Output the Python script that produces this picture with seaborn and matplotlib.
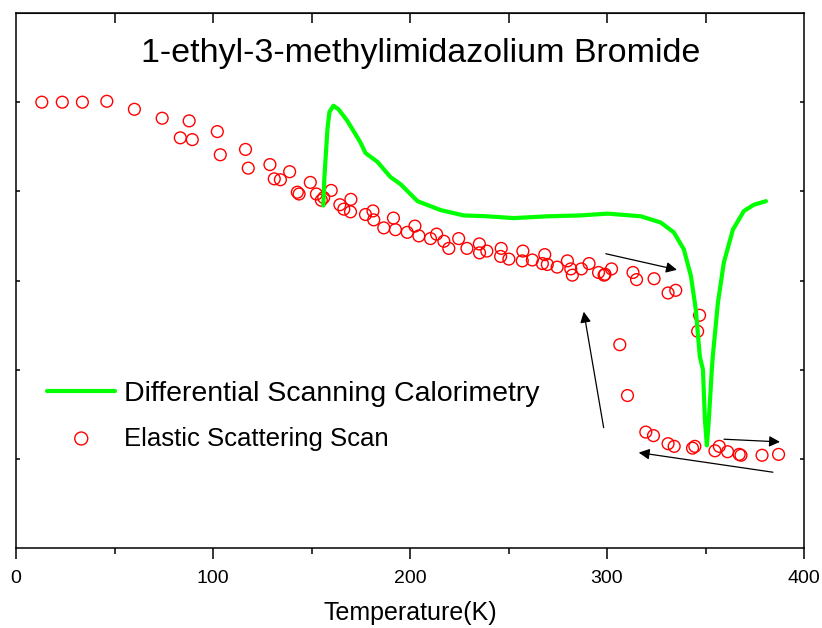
import matplotlib

matplotlib.use("Agg")
import matplotlib.pyplot as plt
import seaborn as sns

# DSC trace (temperature in K, signal in arbitrary units)
dsc_temp = [156.0, 156.5, 158.1, 159.1, 161.1, 163.7, 168.2, 174.8, 177.4, 183.5,
            190.1, 195.2, 203.8, 215.5, 227.2, 239.4, 252.6, 269.9, 286.7, 300.4,
            317.2, 327.3, 333.9, 339.0, 342.6, 345.1, 347.1, 348.7, 349.7, 350.7,
            351.7, 353.2, 353.7, 356.3, 359.3, 363.9, 369.5, 374.6, 380.7]
dsc_signal = [3.84, 4.14, 4.70, 4.89, 4.96, 4.92, 4.79, 4.55, 4.43, 4.33,
              4.16, 4.08, 3.89, 3.79, 3.73, 3.72, 3.70, 3.72, 3.73, 3.75,
              3.72, 3.65, 3.54, 3.35, 3.05, 2.67, 2.15, 2.00, 1.44, 1.15,
              1.44, 2.00, 2.15, 2.75, 3.20, 3.57, 3.78, 3.85, 3.89]

# elastic scattering scan points
ess_temp = [13.1, 23.5, 33.7, 46.1, 60.1, 74.2, 87.9, 83.4, 89.5, 102.2,
            103.7, 116.5, 117.9, 128.9, 131.1, 134.2, 138.9, 142.8, 143.7, 149.4,
            152.5, 155.0, 156.2, 160.0, 164.4, 166.4, 170.0, 169.8, 177.4, 181.2,
            181.6, 186.7, 191.6, 192.6, 198.6, 202.5, 204.5, 210.4, 213.5, 217.2,
            219.7, 224.7, 228.9, 235.2, 235.3, 239.0, 246.3, 246.0, 250.2, 257.3,
            257.0, 262.1, 268.4, 267.2, 269.7, 274.7, 279.9, 281.6, 282.4, 287.0,
            290.9, 295.7, 298.5, 299.0, 302.3, 306.5, 310.4, 313.2, 315.0, 319.7,
            323.6, 323.9, 331.0, 331.0, 334.1, 334.9, 343.4, 344.6, 346.0, 347.0,
            354.8, 357.0, 361.2, 367.1, 368.0, 378.7, 387.1]
ess_signal = [5.00, 5.00, 5.00, 5.01, 4.92, 4.82, 4.79, 4.60, 4.58, 4.67,
              4.41, 4.47, 4.26, 4.30, 4.14, 4.13, 4.22, 3.99, 3.97, 4.10,
              3.97, 3.90, 3.93, 4.01, 3.85, 3.80, 3.91, 3.77, 3.74, 3.78,
              3.68, 3.59, 3.70, 3.57, 3.54, 3.61, 3.50, 3.47, 3.52, 3.44,
              3.36, 3.47, 3.36, 3.41, 3.31, 3.33, 3.36, 3.27, 3.24, 3.33,
              3.22, 3.23, 3.29, 3.19, 3.18, 3.15, 3.22, 3.13, 3.06, 3.13,
              3.19, 3.09, 3.06, 3.07, 3.13, 2.28, 1.71, 3.09, 3.01, 1.30,
              1.26, 3.02, 2.86, 1.17, 1.14, 2.89, 1.12, 1.14, 2.43, 2.61,
              1.09, 1.14, 1.08, 1.05, 1.04, 1.04, 1.05]

# heating / cooling direction arrows: (start, end)
arrow_starts = [(299.4, 3.30), (298.3, 1.35), (359.4, 1.22), (384.2, 0.85)]
arrow_ends = [(335.5, 3.12), (288.2, 2.65), (387.8, 1.19), (316.1, 1.07)]

TITLE = "1-ethyl-3-methylimidazolium Bromide"

sns.set_style("ticks")
plt.rcParams.update({
    "font.family": ["Liberation Sans", "DejaVu Sans"],
    "text.color": "black",
    "axes.labelcolor": "black",
    "xtick.color": "black",
    "ytick.color": "black",
})

fig = plt.figure(figsize=(8.22, 6.28), dpi=100)
ax = fig.add_axes([16 / 822, 80 / 628, 788 / 822, 535 / 628])

sns.lineplot(x=dsc_temp, y=dsc_signal, sort=False, color="#00ff00", lw=3,
             label="Differential Scanning Calorimetry", ax=ax)
sns.scatterplot(x=ess_temp, y=ess_signal, marker="o", s=72, facecolor="none",
                edgecolor="#ff0000", linewidth=1, label="Elastic Scattering Scan",
                ax=ax)

for start, end in zip(arrow_starts, arrow_ends):
    ax.annotate("", xy=end, xytext=start,
                arrowprops=dict(arrowstyle="-|>", color="black", lw=0.9,
                                mutation_scale=16, shrinkA=0, shrinkB=0))

ax.text(0.513, 0.908, TITLE, transform=ax.transAxes, ha="center",
        va="baseline", fontsize=24.5)

ax.set_xlim(0, 400)
ax.set_ylim(0, 6.0)
ax.set_xticks([0, 100, 200, 300, 400])
ax.set_xticks([50, 150, 250, 350], minor=True)
ax.set_yticks([1, 2, 3, 4, 5])
ax.set_xlabel("Temperature(K)", fontsize=18, labelpad=10)
ax.set_ylabel("")

for side in ["left", "right", "top", "bottom"]:
    ax.spines[side].set_visible(True)
    ax.spines[side].set_color("black")
    ax.spines[side].set_linewidth(1.1)

ax.tick_params(axis="x", which="major", direction="out", length=8, width=1.1,
               labelsize=14, pad=8)
ax.tick_params(axis="x", which="minor", direction="out", length=4.5, width=1.1)
ax.tick_params(axis="y", left=True, right=True, direction="in", length=3,
               width=1.1, labelleft=False)

top = ax.secondary_xaxis("top")
top.set_xticks([50, 100, 150, 200, 250, 300, 350])
top.tick_params(direction="in", length=7, width=1.1, labeltop=False)

leg = ax.legend(loc="upper left", bbox_to_anchor=(0.025, 0.334), frameon=False,
                fontsize=20.5, handlelength=2.4, handletextpad=0.3,
                labelspacing=0.68, borderaxespad=0, markerscale=1.1)
leg.get_texts()[1].set_fontsize(18.5)

fig.savefig("out.png", dpi=100)
